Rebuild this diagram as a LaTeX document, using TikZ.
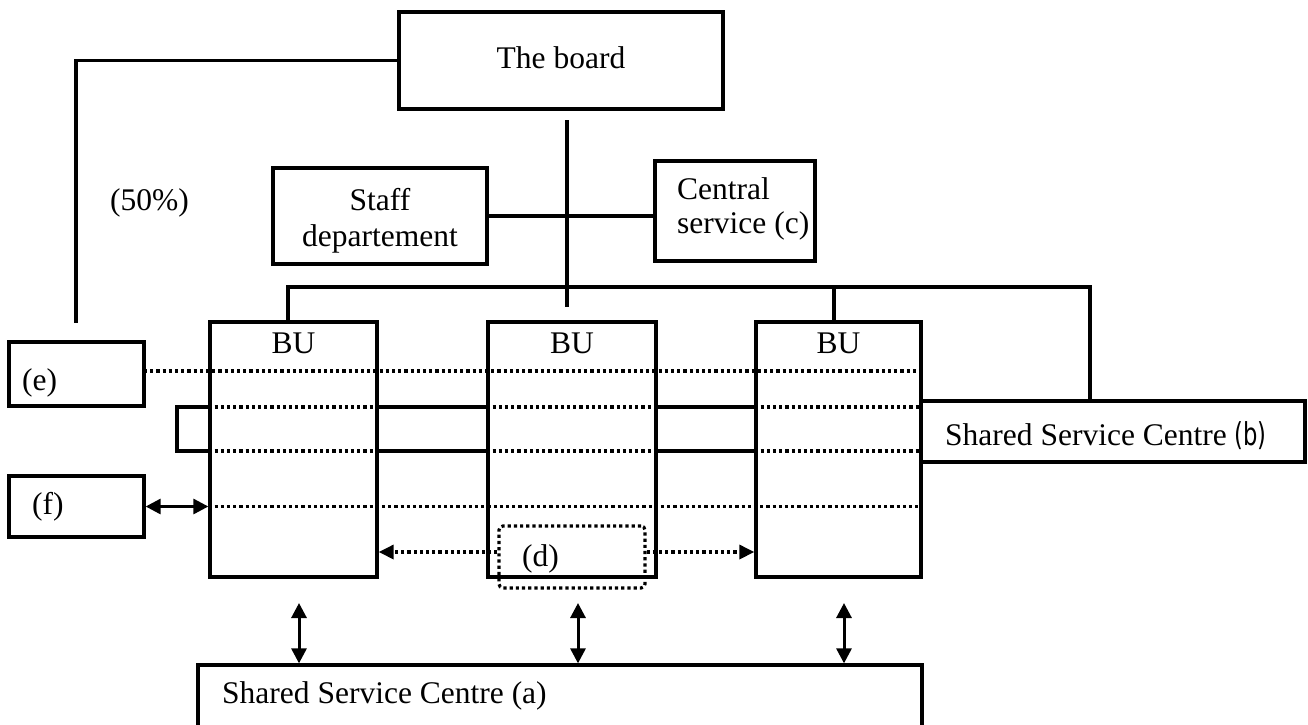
\documentclass[tikz,border=0pt]{standalone}
\usepackage{fontspec}
\setmainfont{Liberation Serif}
\newfontfamily\narrowsans{DejaVu Sans}[FakeStretch=0.72]
\usetikzlibrary{arrows.meta}

\begin{document}
\begin{tikzpicture}[x=1pt,y=-1pt,
  every node/.style={font=\fontsize{31.5}{36}\selectfont, inner sep=0pt},
  box/.style={draw, line width=3.3pt, fill=white, rectangle},
  dbox/.style={draw, line width=3.2pt, dash pattern=on 3.2pt off 3pt, rounded corners=4pt, rectangle},
  wire/.style={line width=3.2pt},
  dotline/.style={line width=3.2pt, dash pattern=on 3.2pt off 3pt},
  bothtips/.style={line width=3pt, {Triangle[length=15pt,width=15pt]}-{Triangle[length=15pt,width=15pt]}},
  onetip/.style={-{Triangle[length=15pt,width=14pt]}},
  lbl/.style={anchor=base west},
  clbl/.style={anchor=base}]
\useasboundingbox (0,0) rectangle (1308,724);
\clip (0,0) rectangle (1308,724);

% shared service strip running behind the business units
\coordinate (stripNW) at (177,407);
\coordinate (stripSE) at (921,451);
\draw[wire] (stripNW) rectangle (stripSE);

% boxes
\node[box, minimum width=324pt, minimum height=97pt]  (board)   at (561,60.5) {};
\node[box, minimum width=214pt, minimum height=96pt]  (staff)   at (380,216) {};
\node[box, minimum width=160pt, minimum height=100pt] (central) at (735,211) {};
\node[box, minimum width=167pt, minimum height=255pt] (bu1)     at (293.5,449.5) {};
\node[box, minimum width=168pt, minimum height=255pt] (bu2)     at (572,449.5) {};
\node[box, minimum width=165pt, minimum height=255pt] (bu3)     at (838.5,449.5) {};
\node[box, minimum width=135pt, minimum height=64pt]  (ebox)    at (76.5,374) {};
\node[box, minimum width=135pt, minimum height=61pt]  (fbox)    at (76.5,506.5) {};
\node[box, minimum width=384pt, minimum height=61pt]  (bbox)    at (1113,431.5) {};
\node[box, minimum width=724pt, minimum height=120pt] (abox)    at (560,725) {};

% texts
\node[clbl] (tboard)  at (561,68)  {The board};
\node[lbl]  (tpct)    at (110,210) {(50\%)};
\node[clbl] (tstaffa) at (380,210) {Staff};
\node[clbl] (tstaffb) at (380,246) {departement};
\node[lbl]  (tcenta)  at (677,199) {Central};
\node[lbl]  (tcentb)  at (677,233) {service (c)};
\node[clbl] (tbua)    at (293.5,353) {BU};
\node[clbl] (tbub)    at (572,353) {BU};
\node[clbl] (tbuc)    at (838.5,353) {BU};
\node[lbl]  (te)      at (22,390)  {(e)};
\node[lbl]  (tf)      at (32,514)  {(f)};
\node[lbl]  (tb)      at (945,445) {Shared Service Centre {\narrowsans(b)}};
\node[lbl]  (ta)      at (222,703) {Shared Service Centre (a)};

% hierarchy lines
\coordinate (sideDrop) at (76,323);
\draw[wire] (board.west) -| (sideDrop);
\coordinate (trunkTop) at (567,120);
\coordinate (trunkEnd) at (567,307);
\draw[wire] (trunkTop) -- (trunkEnd);
\draw[wire] (staff.east) -- (staff.east -| central.west);
\coordinate (busL) at (288,287);
\coordinate (busM) at (834,287);
\coordinate (busR) at (1090,287);
\draw[wire] (busL |- bu1.north) -- (busL) -- (busR) -- (busR |- bbox.north);
\draw[wire] (busM) -- (busM |- bu3.north);

% dotted links across the business units
\coordinate (eLevel) at (144,371);
\draw[dotline] (eLevel) -- (eLevel -| bu3.east);
\foreach \u in {bu1,bu2,bu3} {
  \draw[dotline] (\u.west |- stripNW) -- (\u.east |- stripNW);
  \draw[dotline] (\u.west |- stripSE) -- (\u.east |- stripSE);
}
\draw[dotline] (bu1.west |- fbox.east) -- (bu3.east |- fbox.east);
\draw[bothtips] (fbox.east) -- (bu1.west |- fbox.east);

% (d) group and its links
\node[dbox, minimum width=146pt, minimum height=62pt] (dgroup) at (572,557) {};
\node[lbl] (td) at (522,566) {(d)};
\coordinate (dLevel) at (572,552);
\draw[dotline, onetip] (dgroup.west |- dLevel) -- (bu1.east |- dLevel);
\draw[dotline, onetip] (dgroup.east |- dLevel) -- (bu3.west |- dLevel);

% links to the shared service centre (a)
\coordinate (upa) at (299,603);
\coordinate (upb) at (578,603);
\coordinate (upc) at (844,603);
\foreach \p in {upa,upb,upc}
  \draw[bothtips] (\p) -- (\p |- abox.north);
\end{tikzpicture}
\end{document}
